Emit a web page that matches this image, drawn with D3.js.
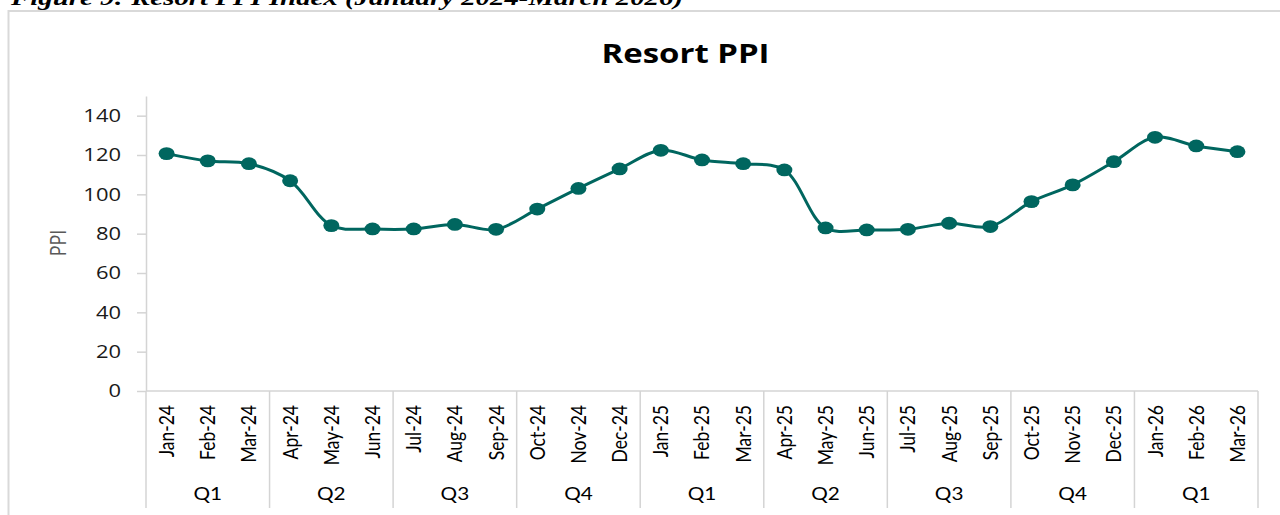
<!DOCTYPE html>
<html>
<head>
<meta charset="utf-8">
<script src="https://d3js.org/d3.v7.min.js"></script>
<style>
  body { margin: 0; background: #fff; }
  svg { display: block; }
</style>
</head>
<body>
<svg id="chart" width="1280" height="515"></svg>
<script>
// data
const months = ["Jan-24","Feb-24","Mar-24","Apr-24","May-24","Jun-24","Jul-24","Aug-24","Sep-24",
                "Oct-24","Nov-24","Dec-24","Jan-25","Feb-25","Mar-25","Apr-25","May-25","Jun-25",
                "Jul-25","Aug-25","Sep-25","Oct-25","Nov-25","Dec-25","Jan-26","Feb-26","Mar-26"];
const ppi = [120.7, 117.0, 115.6, 106.9, 84.1, 82.4, 82.4, 84.7, 82.2,
             92.5, 103.0, 112.9, 122.4, 117.5, 115.6, 112.4, 82.9, 81.9,
             82.2, 85.3, 83.6, 96.3, 104.8, 116.6, 129.0, 124.6, 121.7];
const quarters = ["Q1","Q2","Q3","Q4","Q1","Q2","Q3","Q4","Q1"];
const yTicks = [0, 20, 40, 60, 80, 100, 120, 140];

const teal = "#00665f";
const axisGrey = "#d4d4d4";
const SX = 1.22; // the source picture is stretched sideways a bit

const svg = d3.select("#chart");

// outer frame of the chart object
svg.append("rect")
  .attr("x", 8.5).attr("y", 11)
  .attr("width", 1400).attr("height", 600)
  .attr("fill", "none")
  .attr("stroke", "#d9d9d9")
  .attr("stroke-width", 2);

// caption above the frame (cut off at the top)
svg.append("text")
  .attr("x", 11).attr("y", 5)
  .attr("textLength", 672)
  .attr("lengthAdjust", "spacingAndGlyphs")
  .style("font-family", "'Liberation Serif', 'Times New Roman', serif")
  .style("font-weight", "bold")
  .style("font-style", "italic")
  .style("font-size", "21px")
  .text("Figure 9: Resort PPI Index (January 2024-March 2026)");

// title
svg.append("text")
  .attr("transform", `translate(685.5,62.5) scale(${SX},1)`)
  .attr("text-anchor", "middle")
  .style("font-family", "'Open Sans', sans-serif")
  .style("font-weight", "bold")
  .style("font-size", "27px")
  .attr("fill", "#000")
  .text("Resort PPI");

const x = d3.scaleBand().domain(months).range([146, 1258]);
const y = d3.scaleLinear().domain([0, 150]).range([391, 96]);
const bw = x.bandwidth();

// y axis
const yAxis = d3.axisLeft(y).tickValues(yTicks).tickSize(9).tickSizeOuter(0);
const gy = svg.append("g")
  .attr("transform", "translate(146,0)")
  .call(yAxis);
gy.select(".domain").attr("stroke", axisGrey).attr("stroke-width", 1.5);
gy.selectAll(".tick line").attr("stroke", axisGrey).attr("stroke-width", 1.5);
gy.selectAll(".tick text")
  .attr("x", 0)
  .attr("transform", `translate(-25,0) scale(${SX},1)`)
  .style("font-family", "'Open Sans', sans-serif")
  .style("font-size", "18px")
  .attr("fill", "#1a1a1a");

// y axis title
svg.append("text")
  .attr("transform", `translate(58,243) scale(${SX},1) rotate(-90)`)
  .attr("text-anchor", "middle")
  .attr("dy", "0.35em")
  .style("font-family", "'Open Sans', sans-serif")
  .style("font-size", "18px")
  .attr("fill", "#595959")
  .text("PPI");

// category axis: base line and quarter dividers
svg.append("line")
  .attr("x1", x.range()[0]).attr("x2", x.range()[1])
  .attr("y1", y(0)).attr("y2", y(0))
  .attr("stroke", axisGrey).attr("stroke-width", 1.5);

const dividers = quarters.map((q, i) => x(months[i * 3])).concat([x.range()[1]]);
svg.append("g").selectAll("line")
  .data(dividers)
  .join("line")
  .attr("x1", d => d).attr("x2", d => d)
  .attr("y1", y(0)).attr("y2", 508)
  .attr("stroke", axisGrey).attr("stroke-width", 1.5);

// month labels
svg.append("g").selectAll("text")
  .data(months)
  .join("text")
  .attr("transform", d => `translate(${x(d) + bw / 2},405) scale(${SX},1) rotate(-90)`)
  .attr("text-anchor", "end")
  .attr("dy", "0.35em")
  .style("font-family", "Lato, sans-serif")
  .style("font-size", "17.5px")
  .attr("fill", "#000")
  .text(d => d);

// quarter labels
svg.append("g").selectAll("text")
  .data(quarters)
  .join("text")
  .attr("transform", (d, i) => `translate(${x(months[i * 3]) + bw * 1.5},500) scale(${SX},1)`)
  .attr("text-anchor", "middle")
  .style("font-family", "Lato, sans-serif")
  .style("font-size", "17px")
  .attr("fill", "#000")
  .text(d => d);

// series
const pts = months.map((m, i) => ({ m: m, v: ppi[i] }));

const line = d3.line()
  .x(d => x(d.m) + bw / 2)
  .y(d => y(d.v))
  .curve(d3.curveCatmullRom.alpha(0.5));

svg.append("path")
  .datum(pts)
  .attr("d", line)
  .attr("fill", "none")
  .attr("stroke", teal)
  .attr("stroke-width", 3);

svg.append("g").selectAll("ellipse")
  .data(pts)
  .join("ellipse")
  .attr("cx", d => x(d.m) + bw / 2)
  .attr("cy", d => y(d.v))
  .attr("rx", 8)
  .attr("ry", 6.4)
  .attr("fill", teal);
</script>
</body>
</html>
